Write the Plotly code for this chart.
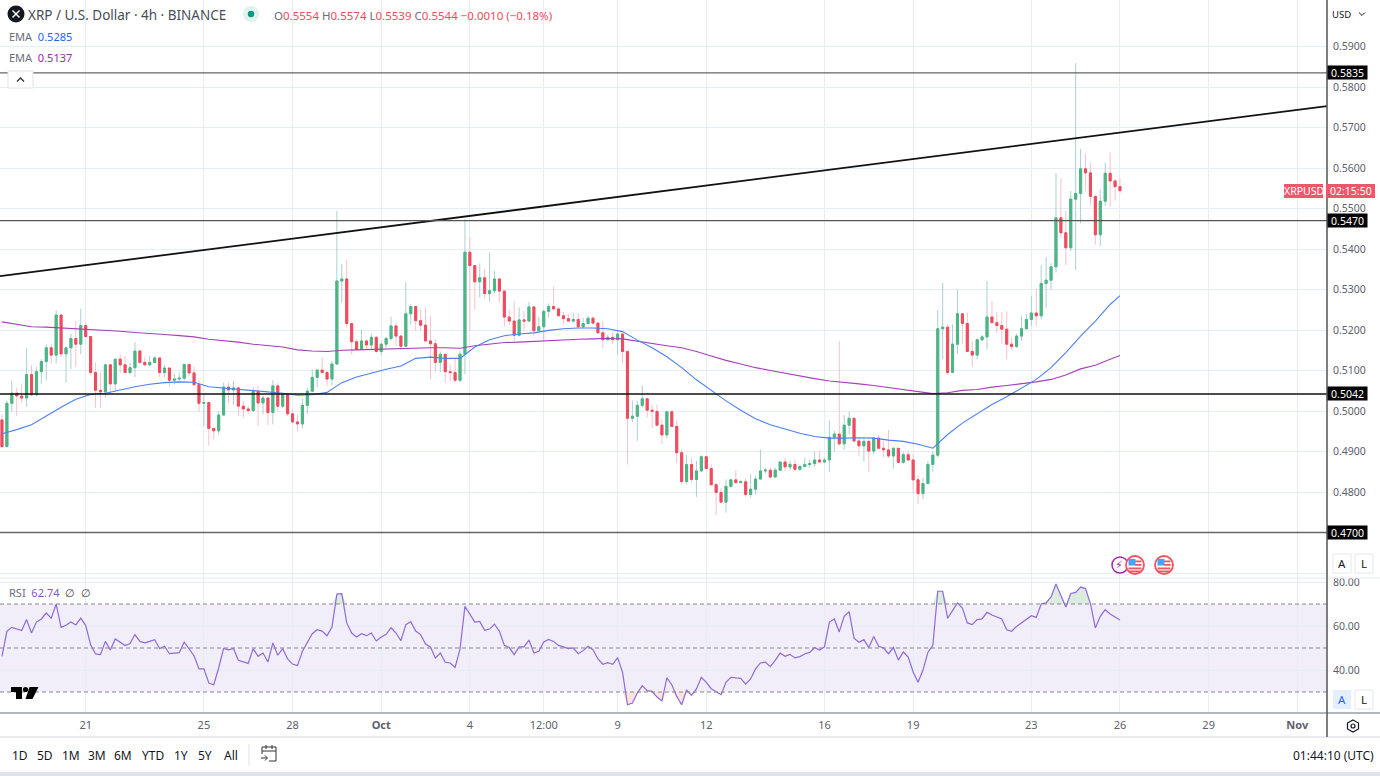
from datetime import datetime, timedelta

import plotly.graph_objects as go

W = 1380
H = 776
FONT = "Noto Sans"

# candles, one every 4h, the last one opening on 26 Oct
first_open = 0.4978
closes = [
    0.4912, 0.5019, 0.5044, 0.5037, 0.5032, 0.5090, 0.5040, 0.5097, 0.5122, 0.5156,
    0.5138, 0.5237, 0.5141, 0.5156, 0.5179, 0.5165, 0.5211, 0.5184, 0.5095, 0.5051,
    0.5047, 0.5114, 0.5067, 0.5128, 0.5114, 0.5095, 0.5107, 0.5148, 0.5120, 0.5114,
    0.5120, 0.5131, 0.5095, 0.5106, 0.5076, 0.5079, 0.5081, 0.5115, 0.5094, 0.5065,
    0.5019, 0.5021, 0.4957, 0.4951, 0.4990, 0.5059, 0.5052, 0.5057, 0.5012, 0.5005,
    0.5001, 0.5048, 0.5020, 0.5032, 0.4996, 0.5062, 0.5012, 0.5042, 0.4993, 0.4973,
    0.4968, 0.5014, 0.5049, 0.5083, 0.5101, 0.5095, 0.5079, 0.5116, 0.5321, 0.5326,
    0.5216, 0.5171, 0.5152, 0.5173, 0.5163, 0.5182, 0.5147, 0.5165, 0.5179, 0.5210,
    0.5185, 0.5160, 0.5240, 0.5258, 0.5223, 0.5212, 0.5173, 0.5166, 0.5120, 0.5140,
    0.5097, 0.5095, 0.5076, 0.5140, 0.5392, 0.5359, 0.5319, 0.5329, 0.5290, 0.5297,
    0.5326, 0.5296, 0.5232, 0.5222, 0.5187, 0.5225, 0.5222, 0.5257, 0.5198, 0.5208,
    0.5246, 0.5258, 0.5252, 0.5235, 0.5228, 0.5222, 0.5226, 0.5208, 0.5216, 0.5229,
    0.5217, 0.5193, 0.5176, 0.5182, 0.5176, 0.5190, 0.5147, 0.4982, 0.4987, 0.5014,
    0.5030, 0.5002, 0.4999, 0.4965, 0.4941, 0.4998, 0.4962, 0.4897, 0.4826, 0.4868,
    0.4831, 0.4852, 0.4887, 0.4858, 0.4818, 0.4799, 0.4775, 0.4814, 0.4830, 0.4823,
    0.4825, 0.4794, 0.4807, 0.4832, 0.4852, 0.4854, 0.4837, 0.4854, 0.4874, 0.4862,
    0.4868, 0.4856, 0.4863, 0.4868, 0.4870, 0.4879, 0.4874, 0.4879, 0.4935, 0.4943,
    0.4919, 0.4965, 0.4982, 0.4926, 0.4914, 0.4925, 0.4901, 0.4933, 0.4908, 0.4904,
    0.4889, 0.4908, 0.4873, 0.4892, 0.4879, 0.4830, 0.4796, 0.4821, 0.4868, 0.4891,
    0.5203, 0.5207, 0.5095, 0.5165, 0.5240, 0.5216, 0.5147, 0.5138, 0.5176, 0.5183,
    0.5232, 0.5218, 0.5211, 0.5202, 0.5165, 0.5159, 0.5185, 0.5203, 0.5226, 0.5242,
    0.5235, 0.5315, 0.5323, 0.5356, 0.5477, 0.5440, 0.5403, 0.5523, 0.5537, 0.5598,
    0.5588, 0.5530, 0.5435, 0.5518, 0.5587, 0.5568, 0.5554, 0.5544,
]
highs = [
    0.4992, 0.5025, 0.5074, 0.5058, 0.5068, 0.5155, 0.5113, 0.5109, 0.5128, 0.5165,
    0.5165, 0.5249, 0.5239, 0.5160, 0.5191, 0.5222, 0.5253, 0.5216, 0.5185, 0.5119,
    0.5095, 0.5114, 0.5115, 0.5128, 0.5140, 0.5136, 0.5119, 0.5170, 0.5151, 0.5132,
    0.5136, 0.5136, 0.5131, 0.5114, 0.5107, 0.5092, 0.5095, 0.5117, 0.5116, 0.5109,
    0.5078, 0.5041, 0.5021, 0.4958, 0.5000, 0.5070, 0.5070, 0.5074, 0.5060, 0.5025,
    0.5012, 0.5058, 0.5062, 0.5037, 0.5033, 0.5076, 0.5069, 0.5045, 0.5042, 0.5004,
    0.4992, 0.5031, 0.5058, 0.5103, 0.5103, 0.5133, 0.5099, 0.5123, 0.5494, 0.5362,
    0.5373, 0.5218, 0.5177, 0.5200, 0.5177, 0.5189, 0.5186, 0.5169, 0.5183, 0.5232,
    0.5218, 0.5188, 0.5318, 0.5263, 0.5259, 0.5251, 0.5255, 0.5235, 0.5177, 0.5147,
    0.5140, 0.5115, 0.5128, 0.5148, 0.5474, 0.5430, 0.5356, 0.5365, 0.5350, 0.5391,
    0.5346, 0.5329, 0.5300, 0.5251, 0.5272, 0.5256, 0.5247, 0.5269, 0.5255, 0.5232,
    0.5251, 0.5266, 0.5307, 0.5256, 0.5245, 0.5239, 0.5241, 0.5241, 0.5230, 0.5235,
    0.5235, 0.5217, 0.5222, 0.5189, 0.5196, 0.5196, 0.5193, 0.5148, 0.5026, 0.5026,
    0.5063, 0.5029, 0.5016, 0.5016, 0.4980, 0.4998, 0.5002, 0.4977, 0.4904, 0.4891,
    0.4885, 0.4877, 0.4891, 0.4889, 0.4868, 0.4823, 0.4810, 0.4831, 0.4833, 0.4854,
    0.4830, 0.4834, 0.4844, 0.4840, 0.4905, 0.4860, 0.4860, 0.4860, 0.4877, 0.4885,
    0.4878, 0.4880, 0.4868, 0.4885, 0.4880, 0.4900, 0.4901, 0.4885, 0.4977, 0.4951,
    0.5173, 0.4990, 0.4998, 0.4982, 0.4933, 0.4933, 0.4930, 0.4935, 0.4941, 0.4926,
    0.4953, 0.4910, 0.4909, 0.4899, 0.4901, 0.4893, 0.4840, 0.4835, 0.4877, 0.4901,
    0.5249, 0.5317, 0.5214, 0.5214, 0.5300, 0.5241, 0.5243, 0.5173, 0.5179, 0.5188,
    0.5321, 0.5272, 0.5244, 0.5244, 0.5247, 0.5181, 0.5191, 0.5235, 0.5239, 0.5284,
    0.5303, 0.5360, 0.5380, 0.5365, 0.5587, 0.5574, 0.5494, 0.5543, 0.5859, 0.5647,
    0.5635, 0.5613, 0.5531, 0.5547, 0.5613, 0.5638, 0.5572, 0.5574,
]
lows = [
    0.4910, 0.4912, 0.4998, 0.4988, 0.5021, 0.5010, 0.5037, 0.5037, 0.5067, 0.5076,
    0.5117, 0.5117, 0.5133, 0.5070, 0.5103, 0.5109, 0.5140, 0.5181, 0.5088, 0.5008,
    0.5008, 0.5033, 0.5045, 0.5048, 0.5095, 0.5095, 0.5091, 0.5084, 0.5117, 0.5111,
    0.5111, 0.5118, 0.5084, 0.5084, 0.5060, 0.5066, 0.5074, 0.5076, 0.5086, 0.5063,
    0.4998, 0.4963, 0.4914, 0.4930, 0.4942, 0.4992, 0.5018, 0.5016, 0.4988, 0.4984,
    0.4993, 0.4998, 0.4963, 0.4992, 0.4965, 0.4967, 0.5000, 0.5008, 0.4988, 0.4971,
    0.4949, 0.4957, 0.4993, 0.5048, 0.5058, 0.5093, 0.5062, 0.5064, 0.5114, 0.5267,
    0.5206, 0.5140, 0.5152, 0.5152, 0.5152, 0.5150, 0.5144, 0.5138, 0.5156, 0.5173,
    0.5160, 0.5152, 0.5160, 0.5214, 0.5198, 0.5199, 0.5169, 0.5078, 0.5097, 0.5095,
    0.5070, 0.5074, 0.5070, 0.5070, 0.5091, 0.5198, 0.5251, 0.5280, 0.5278, 0.5270,
    0.5291, 0.5268, 0.5208, 0.5212, 0.5173, 0.5184, 0.5198, 0.5225, 0.5185, 0.5198,
    0.5173, 0.5231, 0.5252, 0.5235, 0.5214, 0.5221, 0.5218, 0.5202, 0.5204, 0.5214,
    0.5214, 0.5191, 0.5156, 0.5174, 0.5165, 0.5140, 0.5117, 0.4868, 0.4973, 0.4926,
    0.5008, 0.4984, 0.4957, 0.4965, 0.4919, 0.4933, 0.4962, 0.4872, 0.4819, 0.4819,
    0.4823, 0.4788, 0.4850, 0.4856, 0.4816, 0.4743, 0.4774, 0.4749, 0.4811, 0.4823,
    0.4823, 0.4788, 0.4786, 0.4794, 0.4830, 0.4847, 0.4834, 0.4835, 0.4852, 0.4852,
    0.4853, 0.4852, 0.4852, 0.4862, 0.4860, 0.4862, 0.4872, 0.4872, 0.4849, 0.4900,
    0.4914, 0.4904, 0.4942, 0.4922, 0.4888, 0.4875, 0.4849, 0.4893, 0.4905, 0.4885,
    0.4883, 0.4858, 0.4872, 0.4870, 0.4877, 0.4797, 0.4771, 0.4782, 0.4819, 0.4850,
    0.4885, 0.5128, 0.5089, 0.5097, 0.5140, 0.5165, 0.5146, 0.5109, 0.5128, 0.5173,
    0.5152, 0.5218, 0.5193, 0.5166, 0.5128, 0.5151, 0.5156, 0.5173, 0.5202, 0.5210,
    0.5210, 0.5226, 0.5255, 0.5299, 0.5342, 0.5428, 0.5360, 0.5395, 0.5348, 0.5463,
    0.5543, 0.5509, 0.5410, 0.5407, 0.5506, 0.5505, 0.5519, 0.5539,
]

# EMAs read every third bar
ema_blue = [
    0.4944, 0.4954, 0.4966, 0.4988, 0.5009, 0.5029, 0.5041, 0.5044, 0.5052, 0.5060,
    0.5066, 0.5070, 0.5072, 0.5071, 0.5060, 0.5057, 0.5054, 0.5050, 0.5047, 0.5044,
    0.5039, 0.5040, 0.5046, 0.5070, 0.5084, 0.5094, 0.5103, 0.5111, 0.5130, 0.5133,
    0.5130, 0.5130, 0.5158, 0.5176, 0.5186, 0.5190, 0.5193, 0.5199, 0.5203, 0.5205,
    0.5205, 0.5203, 0.5196, 0.5175, 0.5156, 0.5134, 0.5107, 0.5077, 0.5050, 0.5025,
    0.5002, 0.4981, 0.4966, 0.4955, 0.4945, 0.4937, 0.4933, 0.4933, 0.4934, 0.4933,
    0.4928, 0.4925, 0.4918, 0.4908, 0.4942, 0.4970, 0.4992, 0.5016, 0.5035, 0.5056,
    0.5078, 0.5107, 0.5144, 0.5185, 0.5222, 0.5263, 0.5285,
]
ema_purple = [
    0.5220, 0.5214, 0.5208, 0.5207, 0.5205, 0.5204, 0.5202, 0.5199, 0.5197, 0.5194,
    0.5192, 0.5189, 0.5186, 0.5183, 0.5177, 0.5174, 0.5170, 0.5165, 0.5161, 0.5158,
    0.5151, 0.5148, 0.5147, 0.5150, 0.5151, 0.5152, 0.5153, 0.5154, 0.5156, 0.5156,
    0.5156, 0.5155, 0.5161, 0.5165, 0.5169, 0.5170, 0.5172, 0.5174, 0.5175, 0.5177,
    0.5178, 0.5179, 0.5178, 0.5172, 0.5166, 0.5161, 0.5156, 0.5147, 0.5136, 0.5125,
    0.5116, 0.5107, 0.5100, 0.5093, 0.5086, 0.5080, 0.5074, 0.5071, 0.5067, 0.5063,
    0.5058, 0.5054, 0.5048, 0.5043, 0.5045, 0.5051, 0.5053, 0.5059, 0.5063, 0.5067,
    0.5072, 0.5078, 0.5089, 0.5104, 0.5113, 0.5128, 0.5137,
]

rsi = [
    46.2, 57.6, 59.4, 58.6, 57.9, 62.9, 56.8, 61.8, 63.2, 65.9,
    63.6, 70.0, 59.4, 60.3, 61.8, 60.5, 63.6, 60.3, 51.5, 47.3,
    47.0, 53.0, 49.1, 54.1, 52.6, 51.1, 52.0, 56.1, 53.0, 52.3,
    53.0, 53.8, 49.8, 50.8, 47.4, 47.7, 47.9, 52.7, 49.8, 46.5,
    40.5, 40.5, 34.1, 33.3, 40.9, 49.8, 49.2, 49.8, 44.4, 43.6,
    43.0, 49.7, 46.2, 47.7, 43.6, 52.3, 46.7, 49.7, 45.0, 42.7,
    42.0, 48.5, 52.3, 56.5, 58.3, 57.7, 55.6, 59.5, 74.5, 74.7,
    61.4, 56.8, 55.0, 56.5, 55.6, 56.8, 53.2, 55.0, 56.2, 59.2,
    56.8, 53.3, 60.6, 62.0, 57.7, 56.1, 51.8, 50.5, 45.5, 47.7,
    43.5, 43.2, 41.2, 49.5, 68.9, 65.5, 61.8, 62.1, 58.0, 58.6,
    60.8, 57.6, 51.2, 50.2, 47.0, 50.5, 50.5, 53.6, 47.7, 48.5,
    52.7, 53.9, 53.0, 51.2, 50.3, 49.7, 50.0, 47.4, 48.8, 50.8,
    49.2, 45.0, 42.6, 43.3, 42.6, 45.6, 38.9, 24.2, 25.0, 29.5,
    32.9, 30.6, 30.3, 27.7, 25.9, 36.4, 33.3, 28.0, 24.2, 30.8,
    28.5, 31.4, 36.7, 34.4, 31.5, 30.3, 28.8, 34.4, 36.7, 36.4,
    36.2, 33.6, 35.9, 40.5, 43.2, 43.6, 41.5, 44.4, 47.7, 46.2,
    47.1, 45.5, 46.1, 47.3, 48.0, 50.2, 49.1, 50.5, 61.8, 63.2,
    57.3, 64.4, 66.5, 54.5, 52.6, 53.8, 50.2, 55.2, 50.8, 50.0,
    47.4, 50.2, 44.5, 48.2, 45.9, 39.1, 34.4, 40.0, 48.0, 51.2,
    75.8, 75.8, 63.5, 67.0, 70.5, 68.2, 61.4, 60.6, 62.9, 63.2,
    66.2, 65.0, 64.1, 63.2, 58.3, 57.6, 59.8, 61.4, 63.2, 64.7,
    63.9, 70.0, 70.5, 73.2, 79.1, 73.8, 68.6, 74.8, 75.3, 77.7,
    77.0, 70.2, 59.1, 64.4, 67.4, 65.5, 64.1, 62.74,
]

level_prices = [0.5835, 0.5470, 0.5042, 0.4700]
level_labels = ["0.5835", "0.5470", "0.5042", "0.4700"]
trend_prices = [0.5333, 0.5753]

price_grid = [0.46, 0.47, 0.48, 0.49, 0.50, 0.51, 0.52, 0.53, 0.54, 0.55, 0.56, 0.57, 0.58, 0.59]
price_text = ["", "", "0.4800", "0.4900", "0.5000", "0.5100", "0.5200", "0.5300", "0.5400", "0.5500",
              "0.5600", "0.5700", "0.5800", "0.5900"]
rsi_grid = [40, 60, 80]
rsi_text = ["40.00", "60.00", "80.00"]

tick_dates = ["2023-09-21", "2023-09-25", "2023-09-28", "2023-10-01", "2023-10-04", "2023-10-06 12:00",
              "2023-10-09", "2023-10-12", "2023-10-16", "2023-10-19", "2023-10-23", "2023-10-26",
              "2023-10-29", "2023-11-01"]
tick_text = ["21", "25", "28", "<b>Oct</b>", "4", "12:00", "9", "12", "16", "19", "23", "26", "29", "<b>Nov</b>"]

range_buttons = ["1D", "5D", "1M", "3M", "6M", "YTD", "1Y", "5Y", "All"]
range_button_x = [20, 45, 71, 97, 123, 153, 181, 205, 231]

last_bar = datetime(2023, 10, 26)
dates = [last_bar - timedelta(hours=4 * (len(closes) - 1 - i)) for i in range(len(closes))]
opens = [first_open] + closes[:-1]
body_high = [max(o, c) for o, c in zip(opens, closes)]
body_low = [min(o, c) for o, c in zip(opens, closes)]
ema_idx = list(range(0, len(closes), 3)) + [len(closes) - 1]
ema_dates = [dates[i] for i in ema_idx]

x_start = last_bar - timedelta(days=37.9)
x_end = last_bar + timedelta(days=7.005)

GREEN = "#4cb584"
RED = "#ef4b5e"
GREEN_WICK = "#a9d0d0"
RED_WICK = "#f6c1ca"
GRID = "#e6eef3"
TEXT = "#5d606b"


def px(x):
    return x / W


def py(y):
    return 1 - y / H


fig = go.Figure()

fig.add_trace(go.Candlestick(
    x=dates, open=opens, high=highs, low=lows, close=closes, hoverinfo="skip", showlegend=False,
    increasing=dict(line=dict(color=GREEN_WICK, width=1), fillcolor=GREEN_WICK),
    decreasing=dict(line=dict(color=RED_WICK, width=1), fillcolor=RED_WICK),
))
fig.add_trace(go.Candlestick(
    x=dates, open=opens, high=body_high, low=body_low, close=closes, hoverinfo="skip", showlegend=False,
    increasing=dict(line=dict(color=GREEN, width=1), fillcolor=GREEN),
    decreasing=dict(line=dict(color=RED, width=1), fillcolor=RED),
))
fig.add_trace(go.Scatter(x=ema_dates, y=ema_purple, mode="lines", line=dict(color="#a63fbb", width=1.1),
                         hoverinfo="skip", showlegend=False))
fig.add_trace(go.Scatter(x=ema_dates, y=ema_blue, mode="lines", line=dict(color="#4b80f5", width=1.1),
                         hoverinfo="skip", showlegend=False))
fig.add_trace(go.Scatter(x=[x_start, x_end], y=trend_prices, mode="lines", line=dict(color="#111111", width=1.8),
                         hoverinfo="skip", showlegend=False))

# RSI pane, the overbought and oversold areas are filled against their bands
for band, values, color in [(70, [max(v, 70) for v in rsi], "#dcecdf"), (30, [min(v, 30) for v in rsi], "#fbe3e0")]:
    fig.add_trace(go.Scatter(x=dates, y=[band] * len(dates), yaxis="y2", mode="lines", line=dict(width=0),
                             hoverinfo="skip", showlegend=False))
    fig.add_trace(go.Scatter(x=dates, y=values, yaxis="y2", mode="lines", line=dict(width=0), fill="tonexty",
                             fillcolor=color, hoverinfo="skip", showlegend=False))
fig.add_trace(go.Scatter(x=dates, y=rsi, yaxis="y2", mode="lines", line=dict(color="#8f6ad6", width=1.2),
                         hoverinfo="skip", showlegend=False))

fig.update_layout(
    width=W, height=H, margin=dict(l=0, r=0, t=0, b=0, pad=0, autoexpand=False),
    paper_bgcolor="white", plot_bgcolor="white", boxgap=0.4, showlegend=False,
    font=dict(family=FONT, size=11, color=TEXT),
    xaxis=dict(
        domain=[0, px(1327)], range=[x_start, x_end], anchor="y2", type="date", automargin=False,
        rangeslider=dict(visible=False), tickmode="array", tickvals=tick_dates, ticktext=tick_text,
        showgrid=True, gridcolor=GRID, gridwidth=1, ticks="", zeroline=False, showline=False,
        tickfont=dict(family=FONT, size=11, color=TEXT), ticklabelstandoff=4,
    ),
    yaxis=dict(
        domain=[py(578), 1], range=[0.5 - 167 / 4050, 0.5 + 411 / 4050], side="right", anchor="x", automargin=False,
        tickmode="array", tickvals=price_grid, ticktext=price_text, showgrid=True, gridcolor=GRID,
        zeroline=False, showline=False, ticks="", ticklabelstandoff=5,
        tickfont=dict(family=FONT, size=10.5, color=TEXT),
    ),
    yaxis2=dict(
        domain=[py(713), py(578)], range=[80 - 131 / 2.2, 80 + 4 / 2.2], side="right", anchor="x", automargin=False,
        tickmode="array", tickvals=rsi_grid, ticktext=rsi_text, showgrid=True, gridcolor=GRID,
        zeroline=False, showline=False, ticks="", ticklabelstandoff=5,
        tickfont=dict(family=FONT, size=10.5, color=TEXT),
    ),
)

# RSI band and its dashed levels
fig.add_shape(type="rect", xref="x domain", yref="y2", x0=0, x1=1, y0=30, y1=70, line=dict(width=0),
              fillcolor="rgba(126,87,194,0.1)", layer="below")
for level in [70, 50, 30]:
    fig.add_shape(type="line", xref="x domain", yref="y2", x0=0, x1=1, y0=level, y1=level,
                  line=dict(color="#85878f", width=1, dash="4px,3px"), layer="above")

# drawn horizontal levels with their tags
level_colors = ["#666666", "#555555", "#111111", "#666666"]
for price, text, color in zip(level_prices, level_labels, level_colors):
    fig.add_shape(type="line", xref="x domain", yref="y", x0=0, x1=1, y0=price, y1=price,
                  line=dict(color=color, width=1.3))
    fig.add_annotation(x=px(1327), y=price, xref="paper", yref="y", text=text, showarrow=False, xanchor="left",
                       yanchor="middle", width=39, height=13, align="center", bgcolor="#000000", borderpad=0,
                       font=dict(family=FONT, size=10.5, color="white"))


def label(x, y, text, size=11, color=TEXT, anchor="left", family=FONT):
    fig.add_annotation(x=px(x), y=py(y), xref="paper", yref="paper", text=text, showarrow=False, xanchor=anchor,
                       yanchor="middle", font=dict(family=family, size=size, color=color), borderpad=0)


def box(x0, y0, x1, y1, fill=None, line=None, width=1):
    fig.add_shape(type="rect", xref="paper", yref="paper", x0=px(x0), x1=px(x1), y0=py(y0), y1=py(y1),
                  fillcolor=fill, line=dict(color=line, width=width if line else 0))


def rule(x0, y0, x1, y1, color, width=1):
    fig.add_shape(type="line", xref="paper", yref="paper", x0=px(x0), x1=px(x1), y0=py(y0), y1=py(y1),
                  line=dict(color=color, width=width))


def circle(x, y, r, fill=None, line=None, width=1):
    fig.add_shape(type="circle", xref="paper", yref="paper", x0=px(x - r), x1=px(x + r), y0=py(y - r), y1=py(y + r),
                  fillcolor=fill, line=dict(color=line, width=width if line else 0))


def poly(points, fill=None, line=None, width=1):
    path = "M " + " L ".join(f"{px(x):.5f},{py(y):.5f}" for x, y in points)
    if fill:
        path += " Z"
    fig.add_shape(type="path", xref="paper", yref="paper", path=path, fillcolor=fill,
                  line=dict(color=line, width=width if line else 0))


# frame of the panes
rule(0, 578, W, 578, "#e6ebf2")
rule(0, 713, W, 713, "#b2b5be", 2)
rule(0, 737, W, 737, "#e0e3eb", 1.5)
rule(1327, 0, 1327, 737, "#555555", 1.5)
box(0, 772, W, H, fill="#e0e3eb")

# header
circle(16, 14, 8.5, fill="#131722")
rule(12.5, 10.5, 19.5, 17.5, "white", 1.4)
rule(19.5, 10.5, 12.5, 17.5, "white", 1.4)
label(27, 15, "XRP / U.S. Dollar · 4h · BINANCE", size=13.5, color="#4a4d57")
circle(251, 14, 8, fill="#dff2ee")
circle(251, 14, 3.2, fill="#089981")
S = "<span style='color:#ef4b5e'>"
label(273, 15, f"O{S}0.5554</span> H{S}0.5574</span> L{S}0.5539</span> C{S}0.5544 −0.0010 (−0.18%)</span>",
      size=11.5, color="#6a6d78")
label(8, 36, "EMA  <span style='color:#2962ff'>0.5285</span>", size=11, color="#6a6d78")
label(8, 58, "EMA  <span style='color:#9c27b0'>0.5137</span>", size=11, color="#6a6d78")
box(8, 71, 33, 88, fill="white", line="#e0e3eb")
poly([(17, 81.5), (20.5, 78), (24, 81.5)], line="#333333", width=1.3)
label(8, 592, "RSI  <span style='color:#7e57c2'>62.74</span>  <span style='color:#444444'>∅  ∅</span>", size=11,
      color="#6a6d78")

# TradingView mark
poly([(11, 687), (22, 687), (22, 699), (16, 699), (16, 692), (11, 692)], fill="#000000")
circle(25.5, 689.5, 2.6, fill="#000000")
poly([(29.5, 687), (38.5, 687), (32.5, 699), (25.5, 699)], fill="#000000")

# price tag and scale header
box(1284, 184, 1323, 198, fill="#f0566a")
box(1326, 184, 1375, 198, fill="#f0566a")
label(1303.5, 191, "XRPUSD", size=10.5, color="white", anchor="center")
label(1350.5, 191, "02:15:50", size=10.5, color="white", anchor="center")
label(1341, 14, "USD", size=9.5, color="#131722", anchor="center")
poly([(1359, 12.5), (1362, 15.5), (1365, 12.5)], line="#131722", width=1)

# event icons
circle(1120, 565, 8, fill="white", line="#9c27b0", width=1.5)
label(1119, 565, "⚡", size=11, color="#9c27b0", anchor="center", family="DejaVu Sans")
for cx in [1135, 1164]:
    circle(cx, 565, 9, fill="white", line="#f7525f", width=1.8)
    for dy in [-4.5, -1, 2.5, 5.5]:
        box(cx - 6.5 if dy > 0 else cx, 565 + dy, cx + 6.5, 565 + dy + 1.8, fill="#f7525f")
    box(cx - 6.5, 559, cx + 0.5, 565.5, fill="#42a5f5")

# auto and log buttons
for top, highlighted in [(554, False), (690, True)]:
    box(1333, top, 1351, top + 19, fill="#e3effd" if highlighted else "white", line=None if highlighted else "#e6e8ee")
    box(1355, top, 1373, top + 19, fill="white", line="#e6e8ee")
    label(1342, top + 9.5, "A", size=11.5, color="#2962ff" if highlighted else "#131722", anchor="center")
    label(1364, top + 9.5, "L", size=11.5, color="#131722", anchor="center")

# settings
poly([(1353, 720), (1358.5, 723), (1358.5, 729), (1353, 732), (1347.5, 729), (1347.5, 723)], fill="white",
     line="#131722", width=1.2)
circle(1353, 726, 2, line="#131722", width=1.2)

# bottom toolbar
for text, x in zip(range_buttons, range_button_x):
    label(x, 755, text, size=12, color="#131722", anchor="center")
rule(249, 744, 249, 766, "#e0e3eb")
box(262, 747, 276, 761, line="#333333")
rule(262, 751, 276, 751, "#333333")
rule(266, 745, 266, 749, "#333333")
rule(272, 745, 272, 749, "#333333")
box(260, 754, 269, 763, fill="white")
poly([(261, 758), (267, 758)], line="#333333")
poly([(265, 755.5), (267.5, 758), (265, 760.5)], line="#333333")
label(1375, 755, "01:44:10 (UTC)", size=12, color="#131722", anchor="right")

fig.write_html("out.html", config=dict(displayModeBar=False),
               post_script="document.body.style.margin='0';document.body.style.overflow='hidden';")
